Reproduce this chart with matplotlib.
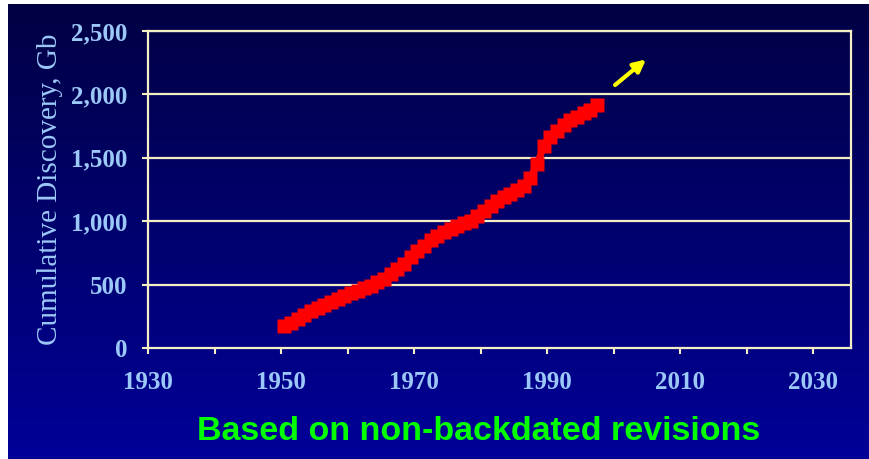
import numpy as np
import matplotlib.pyplot as plt

# cumulative discovery (one point per year, 1950-1997)
years = list(range(1950, 1998))
discovery = [172, 195, 225, 260, 290, 312, 338, 362, 388, 410,
             430, 450, 470, 492, 518, 545, 580, 620, 665, 715,
             762, 808, 850, 885, 915, 942, 965, 982, 1005, 1040,
             1080, 1120, 1160, 1190, 1215, 1245, 1280, 1340, 1450, 1590,
             1665, 1715, 1760, 1795, 1820, 1850, 1880, 1915]

y_ticks = [0, 500, 1000, 1500, 2000, 2500]
y_labels = ["0", "500", "1,000", "1,500", "2,000", "2,500"]
x_major = [1930, 1950, 1970, 1990, 2010, 2030]
x_minor = [1940, 1960, 1980, 2000, 2020]

cream = "#f3eec4"
label_blue = "#9cc8f8"

fig = plt.figure(figsize=(8.7, 4.59), dpi=100, facecolor="white")

# gradient background (navy at top to brighter blue at bottom)
bg = fig.add_axes([8 / 870, 0, 1 - 8 / 870, 1 - 4 / 459], zorder=0)
grad = np.linspace(0, 1, 256).reshape(-1, 1)
top = np.array([0x00, 0x00, 0x44]) / 255
bot = np.array([0x00, 0x00, 0x98]) / 255
img = top + (bot - top) * grad[:, :, None]
bg.imshow(img, aspect="auto", extent=[0, 1, 0, 1], origin="upper")
bg.axis("off")

ax = fig.add_axes([148 / 870, 1 - 348 / 459, (851 - 148) / 870, (348 - 31) / 459], zorder=1)
ax.patch.set_alpha(0)

# points sit mid-year like a category axis
xs = np.array(years) + 0.5
ax.plot(xs, discovery, color="red", lw=5, zorder=3, solid_capstyle="butt")
ax.plot(xs, discovery, ls="none", marker="s", ms=10, mfc="red", mec="none", zorder=4)

ax.set_xlim(1930, 2035.7)
ax.set_ylim(0, 2500)

ax.set_yticks(y_ticks)
ax.set_yticklabels(y_labels)
ax.set_xticks(x_major)
ax.set_xticks(x_minor, minor=True)
ax.set_xticklabels([str(v) for v in x_major])

for t in y_ticks[1:]:
    ax.axhline(t, color=cream, lw=1.6, zorder=2)

for s in ax.spines.values():
    s.set_color(cream)
    s.set_linewidth(1.6)

ax.tick_params(axis="both", which="both", colors=cream, width=1.5, length=4.5)
ax.tick_params(axis="x", which="major", pad=12, labelcolor=label_blue)
ax.tick_params(axis="y", pad=10, labelcolor=label_blue)
for lab in ax.get_xticklabels() + ax.get_yticklabels():
    lab.set_fontfamily("Liberation Serif")
    lab.set_fontweight("bold")
    lab.set_fontsize(18)

ax.set_ylabel("Cumulative Discovery, Gb", family="Liberation Serif",
              fontsize=21, color=label_blue, labelpad=6)

ax.annotate("", xy=(2005.2, 2290), xytext=(1999.9, 2060),
            arrowprops=dict(arrowstyle="-|>", color="yellow", lw=3,
                            mutation_scale=18))

fig.text(479 / 870, 1 - 431 / 459, "Based on non-backdated revisions",
         family="Liberation Sans", fontweight="bold", fontsize=24.5,
         color="#00ff00", ha="center", va="center")

fig.savefig("out.png", dpi=100, facecolor="white")
